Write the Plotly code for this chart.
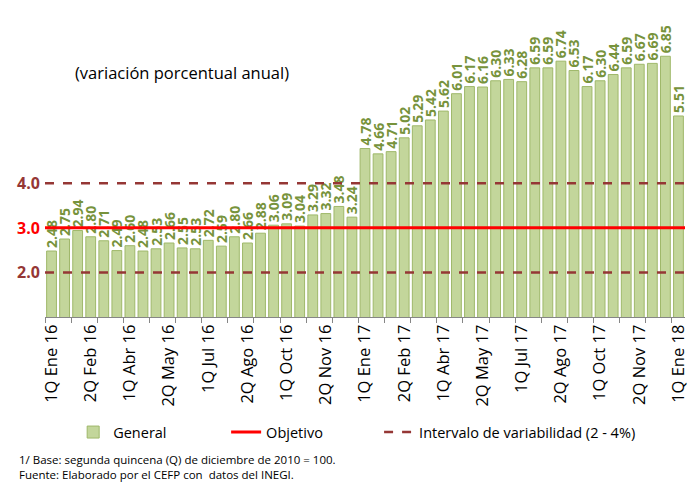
import plotly.graph_objects as go

meses = ["Ene", "Feb", "Mar", "Abr", "May", "Jun", "Jul", "Ago", "Sep", "Oct", "Nov", "Dic"]
categorias = []
for anio in ["16", "17"]:
    for m in meses:
        for q in ["1Q", "2Q"]:
            categorias.append(f"{q} {m} {anio}")
categorias.append("1Q Ene 18")

general = [2.48, 2.75, 2.94, 2.80, 2.71, 2.49, 2.60, 2.48, 2.53, 2.66, 2.55, 2.53,
           2.72, 2.59, 2.80, 2.66, 2.88, 3.06, 3.09, 3.04, 3.29, 3.32, 3.48, 3.24,
           4.78, 4.66, 4.71, 5.02, 5.29, 5.42, 5.62, 6.01, 6.17, 6.16, 6.30, 6.33,
           6.28, 6.59, 6.59, 6.74, 6.53, 6.17, 6.30, 6.44, 6.59, 6.67, 6.69, 6.85,
           5.51]
objetivo = 3.0
intervalo = [2.0, 4.0]

x = list(range(len(categorias)))
x_ext = [x[0] - 0.5, x[-1] + 0.5]

FONT = "Open Sans"

fig = go.Figure()
fig.add_trace(go.Bar(
    x=x, y=general, name="General", legend="legend",
    marker=dict(color="#c3d69b", line=dict(color="#9fb86a", width=1)),
    text=[f"{v:.2f}" for v in general], textposition="outside", textangle=-90,
    constraintext="none",
    textfont=dict(color="#77933c", size=14, family=FONT, weight="bold"),
    cliponaxis=False,
))
fig.add_trace(go.Scatter(
    x=x_ext, y=[objetivo, objetivo], mode="lines", name="Objetivo", legend="legend2",
    line=dict(color="#ff0000", width=3),
))
for i, v in enumerate(intervalo):
    fig.add_trace(go.Scatter(
        x=x_ext, y=[v, v], mode="lines", legend="legend3",
        name="Intervalo de variabilidad (2 - 4%)",
        line=dict(color="#953735", width=2.5, dash="dash"),
        showlegend=(i == 0),
    ))

# level labels on the left
for val, col in [(intervalo[1], "#953735"), (objetivo, "#ff0000"), (intervalo[0], "#953735")]:
    fig.add_annotation(x=0, xref="paper", xanchor="right", xshift=-3, y=val, yref="y",
                       text=f"<b>{val:.1f}</b>", showarrow=False,
                       font=dict(color=col, size=16, family=FONT))

fig.add_annotation(x=0.044, xref="paper", xanchor="left", y=0.785, yref="paper",
                   yanchor="middle",
                   text="(variación porcentual anual)", showarrow=False,
                   font=dict(color="#000000", size=16.5, family=FONT))

fig.add_annotation(x=-0.043, xref="paper", xanchor="left", y=-0.48, yref="paper",
                   yanchor="middle", align="left",
                   text="1/ Base: segunda quincena (Q) de diciembre de 2010 = 100.<br>Fuente: Elaborado por el CEFP con  datos del INEGI.",
                   showarrow=False,
                   font=dict(color="#000000", size=11.5, family=FONT))

leg_common = dict(orientation="h", y=-0.369, yanchor="middle",
                  font=dict(size=14.5, family=FONT, color="#000000"),
                  bgcolor="rgba(0,0,0,0)")
fig.update_layout(
    width=693, height=485,
    margin=dict(l=45, r=8, t=5, b=168),
    paper_bgcolor="white", plot_bgcolor="white",
    bargap=0.25,
    showlegend=True,
    legend=dict(x=0.044, xanchor="left", **leg_common),
    legend2=dict(x=0.283, xanchor="left", **leg_common),
    legend3=dict(x=0.522, xanchor="left", **leg_common),
    font=dict(family=FONT),
)
fig.update_xaxes(
    range=x_ext, tickmode="array", tickvals=x[::3], ticktext=categorias[::3],
    tickangle=-90, tickfont=dict(size=16.5, color="#000000", family=FONT),
    showline=True, linecolor="#868686", linewidth=1, showgrid=False, zeroline=False,
    ticks="", minor=dict(ticks="outside", tick0=-0.5, dtick=2, ticklen=5, tickcolor="#868686"),
)
fig.update_yaxes(range=[1, 8], showticklabels=False, showgrid=False, zeroline=False,
                 showline=False, ticks="")

fig.write_html("out.html", config={"displayModeBar": False},
               post_script="document.body.style.margin='0';")
